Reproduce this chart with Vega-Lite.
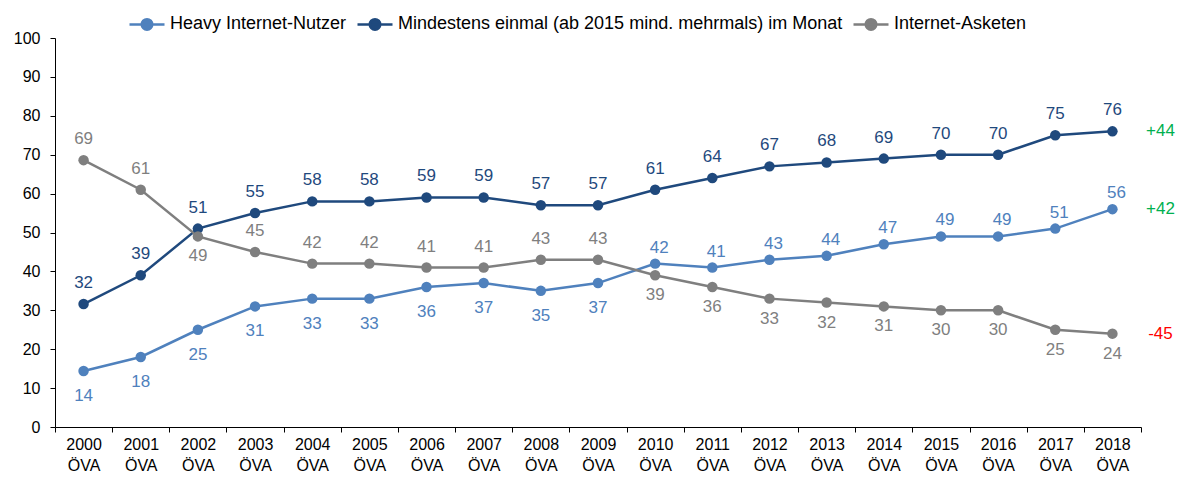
{
  "$schema": "https://vega.github.io/schema/vega-lite/v6.json",
  "autosize": {"type": "none"},
  "padding": {"left": 55, "top": 38, "right": 40, "bottom": 52},
  "width": 1086,
  "height": 389,
  "background": "white",
  "config": {
    "view": {"stroke": null},
    "font": "Liberation Sans",
    "axis": {"labelFont": "Liberation Sans", "labelFontSize": 16, "labelColor": "#000000", "domainColor": "#000000", "tickColor": "#000000", "grid": false, "title": null}
  },
  "datasets": {
    "main": [
      {"year": "2000", "series": "Heavy Internet-Nutzer", "value": 14.4},
      {"year": "2001", "series": "Heavy Internet-Nutzer", "value": 18},
      {"year": "2002", "series": "Heavy Internet-Nutzer", "value": 25},
      {"year": "2003", "series": "Heavy Internet-Nutzer", "value": 31},
      {"year": "2004", "series": "Heavy Internet-Nutzer", "value": 33},
      {"year": "2005", "series": "Heavy Internet-Nutzer", "value": 33},
      {"year": "2006", "series": "Heavy Internet-Nutzer", "value": 36},
      {"year": "2007", "series": "Heavy Internet-Nutzer", "value": 37},
      {"year": "2008", "series": "Heavy Internet-Nutzer", "value": 35},
      {"year": "2009", "series": "Heavy Internet-Nutzer", "value": 37},
      {"year": "2010", "series": "Heavy Internet-Nutzer", "value": 42},
      {"year": "2011", "series": "Heavy Internet-Nutzer", "value": 41},
      {"year": "2012", "series": "Heavy Internet-Nutzer", "value": 43},
      {"year": "2013", "series": "Heavy Internet-Nutzer", "value": 44},
      {"year": "2014", "series": "Heavy Internet-Nutzer", "value": 47},
      {"year": "2015", "series": "Heavy Internet-Nutzer", "value": 49},
      {"year": "2016", "series": "Heavy Internet-Nutzer", "value": 49},
      {"year": "2017", "series": "Heavy Internet-Nutzer", "value": 51},
      {"year": "2018", "series": "Heavy Internet-Nutzer", "value": 56},
      {"year": "2000", "series": "Mindestens einmal (ab 2015 mind. mehrmals) im Monat", "value": 31.6},
      {"year": "2001", "series": "Mindestens einmal (ab 2015 mind. mehrmals) im Monat", "value": 39},
      {"year": "2002", "series": "Mindestens einmal (ab 2015 mind. mehrmals) im Monat", "value": 51},
      {"year": "2003", "series": "Mindestens einmal (ab 2015 mind. mehrmals) im Monat", "value": 55},
      {"year": "2004", "series": "Mindestens einmal (ab 2015 mind. mehrmals) im Monat", "value": 58},
      {"year": "2005", "series": "Mindestens einmal (ab 2015 mind. mehrmals) im Monat", "value": 58},
      {"year": "2006", "series": "Mindestens einmal (ab 2015 mind. mehrmals) im Monat", "value": 59},
      {"year": "2007", "series": "Mindestens einmal (ab 2015 mind. mehrmals) im Monat", "value": 59},
      {"year": "2008", "series": "Mindestens einmal (ab 2015 mind. mehrmals) im Monat", "value": 57},
      {"year": "2009", "series": "Mindestens einmal (ab 2015 mind. mehrmals) im Monat", "value": 57},
      {"year": "2010", "series": "Mindestens einmal (ab 2015 mind. mehrmals) im Monat", "value": 61},
      {"year": "2011", "series": "Mindestens einmal (ab 2015 mind. mehrmals) im Monat", "value": 64},
      {"year": "2012", "series": "Mindestens einmal (ab 2015 mind. mehrmals) im Monat", "value": 67},
      {"year": "2013", "series": "Mindestens einmal (ab 2015 mind. mehrmals) im Monat", "value": 68},
      {"year": "2014", "series": "Mindestens einmal (ab 2015 mind. mehrmals) im Monat", "value": 69},
      {"year": "2015", "series": "Mindestens einmal (ab 2015 mind. mehrmals) im Monat", "value": 70},
      {"year": "2016", "series": "Mindestens einmal (ab 2015 mind. mehrmals) im Monat", "value": 70},
      {"year": "2017", "series": "Mindestens einmal (ab 2015 mind. mehrmals) im Monat", "value": 75},
      {"year": "2018", "series": "Mindestens einmal (ab 2015 mind. mehrmals) im Monat", "value": 76},
      {"year": "2000", "series": "Internet-Asketen", "value": 68.6},
      {"year": "2001", "series": "Internet-Asketen", "value": 61},
      {"year": "2002", "series": "Internet-Asketen", "value": 49},
      {"year": "2003", "series": "Internet-Asketen", "value": 45},
      {"year": "2004", "series": "Internet-Asketen", "value": 42},
      {"year": "2005", "series": "Internet-Asketen", "value": 42},
      {"year": "2006", "series": "Internet-Asketen", "value": 41},
      {"year": "2007", "series": "Internet-Asketen", "value": 41},
      {"year": "2008", "series": "Internet-Asketen", "value": 43},
      {"year": "2009", "series": "Internet-Asketen", "value": 43},
      {"year": "2010", "series": "Internet-Asketen", "value": 39},
      {"year": "2011", "series": "Internet-Asketen", "value": 36},
      {"year": "2012", "series": "Internet-Asketen", "value": 33},
      {"year": "2013", "series": "Internet-Asketen", "value": 32},
      {"year": "2014", "series": "Internet-Asketen", "value": 31},
      {"year": "2015", "series": "Internet-Asketen", "value": 30},
      {"year": "2016", "series": "Internet-Asketen", "value": 30},
      {"year": "2017", "series": "Internet-Asketen", "value": 25},
      {"year": "2018", "series": "Internet-Asketen", "value": 24}
    ],
    "changes": [
      {"year": "2018", "series": "Mindestens einmal (ab 2015 mind. mehrmals) im Monat", "value": 76, "label": "+44"},
      {"year": "2018", "series": "Heavy Internet-Nutzer", "value": 56, "label": "+42"},
      {"year": "2018", "series": "Internet-Asketen", "value": 24, "label": "-45"}
    ]
  },
  "data": {"name": "main"},
  "encoding": {
    "x": {
      "field": "year", "type": "ordinal",
      "scale": {"type": "band", "paddingInner": 0, "paddingOuter": 0},
      "axis": {"labelAngle": 0, "tickBand": "extent", "tickSize": 5, "labelPadding": 4, "labelBaseline": "top", "labelLineHeight": 21, "labelExpr": "datum.label ? [datum.label, 'ÖVA'] : ''", "domainColor": "#000000"}
    },
    "y": {
      "field": "value", "type": "quantitative",
      "scale": {"domain": [0, 100], "nice": false},
      "axis": {"values": [0, 10, 20, 30, 40, 50, 60, 70, 80, 90, 100], "tickSize": 5, "labelPadding": 10}
    }
  },
  "layer": [
    {
      "mark": {"type": "line", "strokeWidth": 2.5},
      "encoding": {
        "color": {
          "field": "series", "type": "nominal",
          "scale": {"domain": ["Heavy Internet-Nutzer", "Mindestens einmal (ab 2015 mind. mehrmals) im Monat", "Internet-Asketen"], "range": ["#4F81BD", "#1F497D", "#7F7F7F"]},
          "legend": {
            "orient": "none", "legendX": 73, "legendY": -33, "direction": "horizontal", "title": null,
            "labelFont": "Liberation Sans", "labelFontSize": 18, "labelColor": "#000000", "labelLimit": 700,
            "symbolType": "M -1 0 L 1 0 M 0.3 0 A 0.3 0.3 0 1 1 -0.3 0 A 0.3 0.3 0 1 1 0.3 0 Z",
            "symbolSize": 1225, "symbolStrokeWidth": 2.5, "labelOffset": 4, "columnPadding": 5,
            "encode": {"symbols": {"update": {"fill": {"scale": "color", "field": "value"}, "stroke": {"scale": "color", "field": "value"}}}}
          }
        }
      }
    },
    {
      "mark": {"type": "point", "filled": true, "size": 110, "opacity": 1},
      "encoding": {"color": {"field": "series", "type": "nominal", "legend": null}}
    },
    {
      "transform": [{"filter": "datum.series == 'Mindestens einmal (ab 2015 mind. mehrmals) im Monat' || (datum.series == 'Internet-Asketen' && toNumber(datum.year) < 2010 && datum.year != '2002')"}],
      "mark": {"type": "text", "fontSize": 17, "dy": -21, "font": "Liberation Sans"},
      "encoding": {"text": {"field": "value", "format": ".0f"}, "color": {"field": "series", "type": "nominal", "legend": null}}
    },
    {
      "transform": [{"filter": "datum.series == 'Heavy Internet-Nutzer' && toNumber(datum.year) >= 2010"}],
      "mark": {"type": "text", "fontSize": 17, "dy": -16, "dx": 4, "font": "Liberation Sans"},
      "encoding": {"text": {"field": "value", "format": ".0f"}, "color": {"field": "series", "type": "nominal", "legend": null}}
    },
    {
      "transform": [{"filter": "datum.series == 'Heavy Internet-Nutzer' && toNumber(datum.year) < 2010"}],
      "mark": {"type": "text", "fontSize": 17, "dy": 25, "font": "Liberation Sans"},
      "encoding": {"text": {"field": "value", "format": ".0f"}, "color": {"field": "series", "type": "nominal", "legend": null}}
    },
    {
      "transform": [{"filter": "datum.series == 'Internet-Asketen' && (toNumber(datum.year) >= 2010 || datum.year == '2002')"}],
      "mark": {"type": "text", "fontSize": 17, "dy": 20, "font": "Liberation Sans"},
      "encoding": {"text": {"field": "value", "format": ".0f"}, "color": {"field": "series", "type": "nominal", "legend": null}}
    },
    {
      "data": {"name": "changes"},
      "mark": {"type": "text", "fontSize": 17, "dx": 48, "font": "Liberation Sans"},
      "encoding": {
        "text": {"field": "label"},
        "color": {"condition": {"test": "indexof(datum.label, '-') == 0", "value": "#FF0000"}, "value": "#00B050"}
      }
    },
    {
      "data": {"values": [{"note": "in %"}]},
      "mark": {"type": "text", "fontSize": 16, "dx": -14, "font": "Liberation Sans", "color": "#000000"},
      "encoding": {"text": {"field": "note"}, "x": {"datum": "2008"}, "y": {"datum": 84.6}}
    }
  ]
}
